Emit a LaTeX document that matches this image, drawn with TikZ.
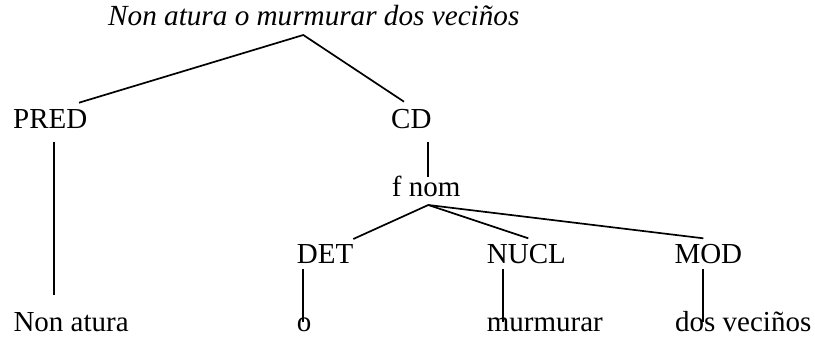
\documentclass[tikz,border=0pt]{standalone}
\usepackage{fontspec}
\setmainfont{Liberation Serif}
\begin{document}
\begin{tikzpicture}[x=1pt,y=-1pt,
  lbl/.style={anchor=base west,inner sep=0pt,font=\fontsize{29}{34}\selectfont},
  edge/.style={line width=1.7pt}]
\useasboundingbox (0,0) rectangle (815,340);
% labels
\node[lbl,font=\fontsize{29.2}{34}\selectfont\itshape] (title) at (108,26) {Non atura o murmurar dos veciños};
\node[lbl] (pred) at (13,128.3) {PRED};
\node[lbl] (cd) at (391,128.3) {CD};
\node[lbl] (fnom) at (391.7,196.7) {f nom};
\node[lbl] (det) at (296.7,263.3) {DET};
\node[lbl] (nucl) at (486.7,263.3) {NUCL};
\node[lbl] (mod) at (674.3,263.3) {MOD};
\node[lbl] (nonatura) at (13.3,331) {Non atura};
\node[lbl] (o) at (296.7,331) {o};
\node[lbl] (murmurar) at (486.7,331) {murmurar};
\node[lbl] (dos) at (675,331) {dos veciños};
% connector end points
\coordinate (tA) at (303.3,35);
\coordinate (predT) at (79,102.7);
\coordinate (cdT) at (404,101.7);
\coordinate (predB) at (54,141.7);
\coordinate (naT) at (54,295);
\coordinate (cdB) at (428.3,141.7);
\coordinate (fnT) at (428.3,176.7);
\coordinate (fnB) at (428.3,205);
\coordinate (detT) at (353.3,239);
\coordinate (nuclT) at (528.3,238.3);
\coordinate (modT) at (703.3,238.3);
\coordinate (detB) at (303.3,269.3);
\coordinate (oT) at (303.3,321.7);
\coordinate (nuclB) at (503.3,269.3);
\coordinate (murT) at (503.3,321.7);
\coordinate (modB) at (702.7,269.3);
\coordinate (dosT) at (702.7,321.7);
% connectors
\draw[edge] (predT) -- (tA) -- (cdT);
\draw[edge] (predB) -- (naT);
\draw[edge] (cdB) -- (fnT);
\draw[edge] (detT) -- (fnB) -- (nuclT);
\draw[edge] (fnB) -- (modT);
\draw[edge] (detB) -- (oT);
\draw[edge] (nuclB) -- (murT);
\draw[edge] (modB) -- (dosT);
\end{tikzpicture}
\end{document}
